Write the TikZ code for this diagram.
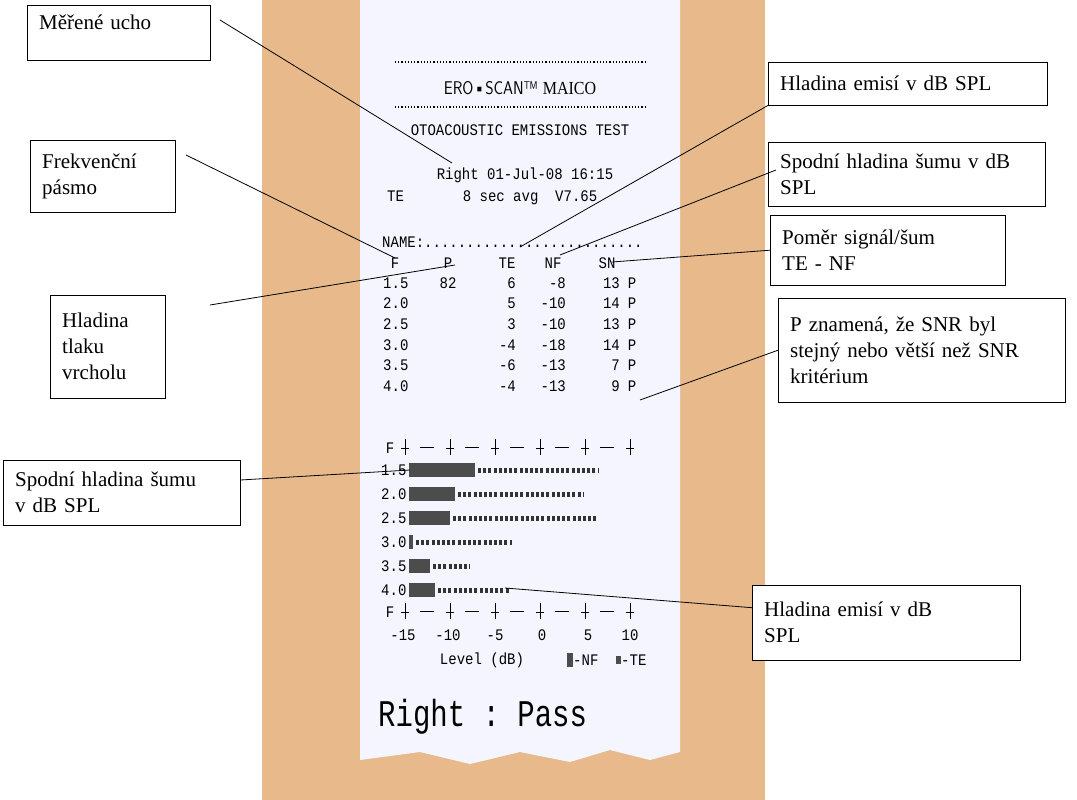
\documentclass[tikz,border=0pt]{standalone}
\usepackage{fontspec}
\setmainfont{Liberation Serif}
\setmonofont{Liberation Mono}
\begin{document}
\begin{tikzpicture}[
    x=1pt, y=-1pt,
    callout/.style={
        draw,
        fill=white,
        align=left,
        anchor=north west,
        inner xsep=12pt,
        inner ysep=8pt,
        font=\fontsize{21}{26}\selectfont,
    },
    leader/.style={line width=0.8pt},
    slip/.style={font=\ttfamily\fontsize{14}{16}\selectfont, inner sep=0pt, yscale=1.15},
    noise/.style={fill=black!70},
    emis/.style={line width=5pt, dash pattern=on 3pt off 2.2pt, black!80},
]
    \useasboundingbox (0,0) rectangle (1077,800);
    % wooden table and paper slip
    \fill[brown!70!orange!55] (262,0) rectangle (765,800);
    \fill[blue!4!white] (360,0) -- (680,0) -- (680,752) -- (650,760) -- (610,750) -- (570,762)
        -- (520,752) -- (470,764) -- (420,752) -- (360,760) -- cycle;

    % slip header
    \draw[dotted, line width=1.2pt] (395,62) -- (645,62);
    \draw[dotted, line width=1.2pt] (395,107) -- (645,107);
    \node[slip, font=\sffamily\fontsize{16}{18}\selectfont] (brand) at (520,88) {ERO•SCAN™ \rmfamily MAICO};
    \node[slip] (title) at (520,130) {OTOACOUSTIC EMISSIONS TEST};
    \node[slip] (ear) at (525,175) {Right 01-Jul-08 16:15};
    \node[slip, anchor=west] (mode) at (387,198) {TE\ \ \ \ \ \ \ 8 sec avg \ V7.65};
    \node[slip, anchor=west] (name) at (382,242) {NAME:..........................};

    % table
    \foreach \txt/\xx in {F/395, P/448, TE/507, NF/553, SN/607}
        \node[slip] (h\txt) at (\xx,263) {\txt};
    \foreach \f/\p/\te/\nf/\sn [count=\i] in {1.5/82/6/-8/13, 2.0//5/-10/14, 2.5//3/-10/13,
            3.0//-4/-18/14, 3.5//-6/-13/7, 4.0//-4/-13/9} {
        \pgfmathsetmacro{\yy}{283+20.6*(\i-1)}
        \node[slip, anchor=west] (f\i) at (383,\yy) {\f};
        \node[slip] (p\i) at (448,\yy) {\p};
        \node[slip, anchor=east] (te\i) at (516,\yy) {\te};
        \node[slip, anchor=east] (nf\i) at (566,\yy) {\nf};
        \node[slip, anchor=east] (sn\i) at (620,\yy) {\sn};
        \node[slip] (ok\i) at (632,\yy) {P};
    }

    % bar chart
    \foreach \yy/\nm in {448/top, 612/bot} {
        \node[slip] (axis\nm) at (390,\yy) {F};
        \foreach \xx in {405,450,495,540,585,630}
            \draw[line width=1pt] (\xx,\yy-9) -- (\xx,\yy+7) (\xx-4,\yy) -- (\xx+4,\yy);
        \foreach \xx in {427,472,517,562,607}
            \draw[line width=1pt] (\xx-7,\yy-1) -- (\xx+7,\yy-1);
    }
    \foreach \f/\dk/\dt [count=\i] in {1.5/475/598, 2.0/455/583, 2.5/450/597, 3.0/413/512, 3.5/430/470, 4.0/435/510} {
        \pgfmathsetmacro{\yy}{470+24*(\i-1)}
        \node[slip, anchor=west] (b\i) at (381,\yy) {\f};
        \fill[noise] (409,\yy-7) rectangle (\dk,\yy+7);
        \draw[emis] (\dk+3,\yy) -- (\dt,\yy);
    }
    \foreach \v/\xx in {-15/403, -10/448, -5/495, 0/542, 5/588, 10/630}
        \node[slip] (tick\xx) at (\xx,635) {\v};
    \node[slip] (level) at (482,660) {Level (dB)};
    \fill[noise] (567,653) rectangle (573,667);
    \node[slip, anchor=west] (keynf) at (573,660) {-NF};
    \fill[noise] (616,656) rectangle (621,664);
    \node[slip, anchor=west] (keyte) at (621,660) {-TE};
    \node[font=\ttfamily\fontsize{29}{32}\selectfont, inner sep=0pt, anchor=west, yscale=1.3] (result) at (378,717) {Right : Pass};

    % callouts
    \node[callout, text width=159pt, minimum height=55pt, text depth=22pt] (ucho) at (27,5) {Měřené ucho};
    \node[callout, text width=255pt, minimum height=43pt] (emise) at (768,62) {Hladina emisí v dB SPL};
    \node[callout, text width=121pt, minimum height=72pt] (pasmo) at (30,140) {Frekvenční\\pásmo};
    \node[callout, text width=253pt, minimum height=64pt] (sum) at (768,142) {Spodní hladina šumu v dB\\SPL};
    \node[callout, text width=211pt, minimum height=70pt] (snr) at (770,215) {Poměr signál/šum\\TE - NF};
    \node[callout, text width=91pt, minimum height=103pt] (vrchol) at (50,295) {Hladina\\tlaku\\vrcholu};
    \node[callout, text width=263pt, minimum height=104pt] (krit) at (778,298) {P znamená, že SNR byl\\stejný nebo větší než SNR\\kritérium};
    \node[callout, text width=213pt, minimum height=65pt] (sumgraf) at (3,460) {Spodní hladina šumu\\v dB SPL};
    \node[callout, text width=244pt, minimum height=75pt] (emisgraf) at (752,585) {Hladina emisí v dB\\SPL};

    % leader lines
    \coordinate (tUcho) at (452,163);
    \coordinate (tEmise) at (520,247);
    \coordinate (tPasmo) at (395,258);
    \coordinate (tSum) at (560,255);
    \coordinate (tSnr) at (612,262);
    \coordinate (tVrchol) at (455,265);
    \coordinate (tKrit) at (640,400);
    \coordinate (tSumgraf) at (410,470);
    \coordinate (tEmisgraf) at (505,588);
    \draw[leader] (220,20) -- (tUcho);
    \draw[leader] (emise.south west) -- (tEmise);
    \draw[leader] (186,155) -- (tPasmo);
    \draw[leader] (776,170) -- (tSum);
    \draw[leader] (snr.west) -- (tSnr);
    \draw[leader] (210,305) -- (tVrchol);
    \draw[leader] (krit.west) -- (tKrit);
    \draw[leader] (sumgraf.north east) ++(0,20) -- (tSumgraf);
    \draw[leader] (emisgraf.west) ++(0,-15) -- (tEmisgraf);
\end{tikzpicture}
\end{document}
